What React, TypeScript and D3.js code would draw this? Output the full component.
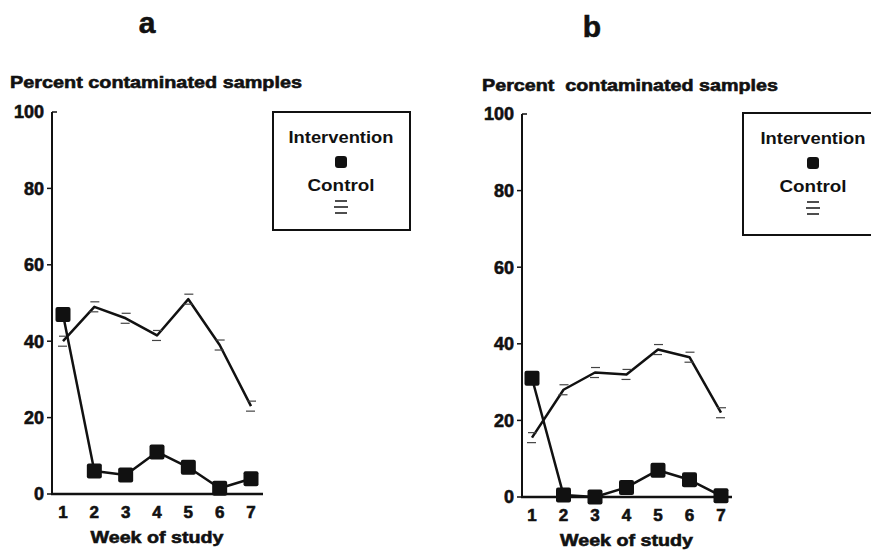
import React from 'react';
import * as d3 from 'd3';

// Values
const weeks = [1, 2, 3, 4, 5, 6, 7];
const interventionA = [47, 6, 5, 11, 7, 1.5, 4];
const controlA = [40, 49, 46, 41.5, 51, 39, 23];
const interventionB = [31, 0.5, 0, 2.5, 7, 4.5, 0.3];
const controlB = [15.5, 28, 32.5, 32, 38.5, 36.5, 22];
const yTicks = [0, 20, 40, 60, 80, 100];

const FONT = "'Liberation Sans', Arial, Helvetica, sans-serif";

interface PanelProps {
  letter: string;
  letterX: number;
  letterY: number;
  yTitle: string;
  yTitleX: number;
  yTitleY: number;
  yTitleWidth: number;
  axisX: number;
  axisEnd: number;
  x1: number;
  x7: number;
  yTop: number;
  yBottom: number;
  intervention: number[];
  control: number[];
  legend: { x: number; y: number; w: number; h: number; cx: number };
}

const Panel: React.FC<PanelProps> = (p) => {
  const x = d3.scaleLinear().domain([1, 7]).range([p.x1, p.x7]);
  const y = d3.scaleLinear().domain([0, 100]).range([p.yBottom, p.yTop]);

  const line = d3.line<number>()
    .x((_, i) => x(weeks[i]))
    .y(d => y(d));

  const sq = 15;
  const L = p.legend;
  // heavy scanned print look
  const heavy = { stroke: '#111', strokeWidth: 0.6 };

  return (
    <g fontFamily={FONT} fill="#111">
      <text x={p.letterX} y={p.letterY} fontSize={30} fontWeight="bold" textAnchor="middle" {...heavy}>{p.letter}</text>
      <text x={p.yTitleX} y={p.yTitleY} fontSize={17} fontWeight="bold" {...heavy}
        textLength={p.yTitleWidth} lengthAdjust="spacingAndGlyphs" xmlSpace="preserve">{p.yTitle}</text>

      {/* axes */}
      <line x1={p.axisX} x2={p.axisX} y1={y(100)} y2={y(0)} stroke="#111" strokeWidth={2} />
      <line x1={p.axisX - 1} x2={p.axisEnd} y1={y(0)} y2={y(0)} stroke="#111" strokeWidth={2.5} />
      {yTicks.map(t => (
        <g key={t}>
          {t === 100
            ? <line x1={p.axisX} x2={p.axisX + 5} y1={y(t)} y2={y(t)} stroke="#111" strokeWidth={1.5} />
            : <line x1={p.axisX - 5} x2={p.axisX} y1={y(t)} y2={y(t)} stroke="#111" strokeWidth={1.5} />}
          <text x={p.axisX - 8} y={y(t)} dy="0.36em" fontSize={18} fontWeight="bold" textAnchor="end" {...heavy}>{t}</text>
        </g>
      ))}
      {weeks.map(w => (
        <text key={w} x={x(w)} y={p.yBottom + 24} fontSize={17} fontWeight="bold" textAnchor="middle" {...heavy}>{w}</text>
      ))}
      <text x={x(4)} y={p.yBottom + 49} fontSize={17} fontWeight="bold" textAnchor="middle" {...heavy}
        textLength={133} lengthAdjust="spacingAndGlyphs">Week of study</text>

      {/* control series */}
      <path d={line(p.control) ?? ''} fill="none" stroke="#111" strokeWidth={2.5} strokeLinejoin="round" />
      {p.control.map((v, i) => (
        <g key={i} stroke="#444" strokeWidth={1.2}>
          <line x1={x(weeks[i]) - 4} x2={x(weeks[i]) + 5} y1={y(v) - 5} y2={y(v) - 5} />
          <line x1={x(weeks[i]) - 5} x2={x(weeks[i]) + 4} y1={y(v) + 5} y2={y(v) + 5} />
        </g>
      ))}

      {/* intervention series */}
      <path d={line(p.intervention) ?? ''} fill="none" stroke="#111" strokeWidth={2.5} strokeLinejoin="round" />
      {p.intervention.map((v, i) => (
        <rect key={i} x={x(weeks[i]) - sq / 2} y={y(v) - sq / 2} width={sq} height={sq} rx={2} fill="#111" />
      ))}

      {/* legend */}
      <rect x={L.x} y={L.y} width={L.w} height={L.h} fill="none" stroke="#111" strokeWidth={2} />
      <text x={L.cx} y={L.y + 31} fontSize={17} textAnchor="middle" fontWeight="bold"
        textLength={105} lengthAdjust="spacingAndGlyphs">Intervention</text>
      <rect x={L.cx - 6} y={L.y + 44} width={12} height={12} rx={3} fill="#111" />
      <text x={L.cx} y={L.y + 79} fontSize={17} textAnchor="middle" fontWeight="bold"
        textLength={67} lengthAdjust="spacingAndGlyphs">Control</text>
      <g stroke="#222" strokeWidth={1.6}>
        <line x1={L.cx - 6} x2={L.cx + 6} y1={L.y + 89} y2={L.y + 89} />
        <line x1={L.cx - 7} x2={L.cx + 7} y1={L.y + 95} y2={L.y + 95} />
        <line x1={L.cx - 6} x2={L.cx + 6} y1={L.y + 101} y2={L.y + 101} />
      </g>
    </g>
  );
};

export default function App() {
  return (
    <svg width={871} height={554} style={{ position: 'absolute', left: 0, top: 0, background: '#fff' }}>
      <Panel
        letter="a" letterX={147} letterY={33}
        yTitle="Percent contaminated samples" yTitleX={10} yTitleY={88} yTitleWidth={292}
        axisX={52} axisEnd={263} x1={63} x7={251} yTop={112} yBottom={494}
        intervention={interventionA} control={controlA}
        legend={{ x: 273, y: 112, w: 137, h: 118, cx: 341 }}
      />
      <Panel
        letter="b" letterX={592} letterY={37}
        yTitle="Percent  contaminated samples" yTitleX={482} yTitleY={91} yTitleWidth={296}
        axisX={522} axisEnd={732} x1={532} x7={721} yTop={114} yBottom={497}
        intervention={interventionB} control={controlB}
        legend={{ x: 743, y: 113, w: 140, h: 122, cx: 813 }}
      />
    </svg>
  );
}
